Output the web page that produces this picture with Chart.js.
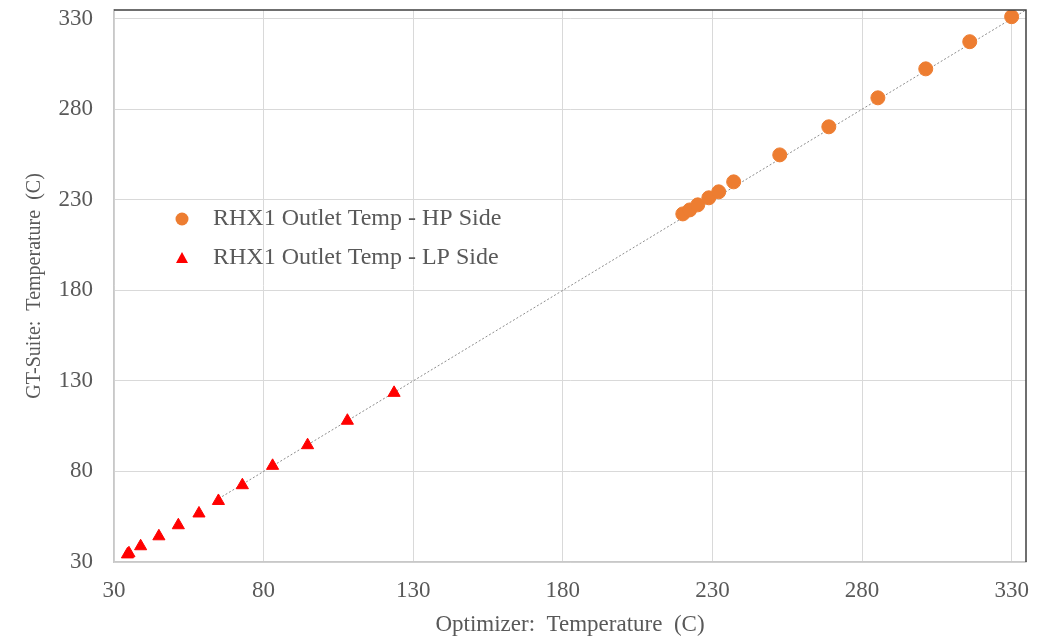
<!DOCTYPE html>
<html>
<head>
<meta charset="utf-8">
<script src="https://cdn.jsdelivr.net/npm/chart.js@4"></script>
<style>
  html, body { margin: 0; padding: 0; background: #fff; }
  #wrap { width: 1051px; height: 640px; }
</style>
</head>
<body>
<div id="wrap"><canvas id="tempChart" width="1051" height="640"></canvas></div>
<script>
// Datos
const hpOptimizer = [220.1, 222.4, 225.1, 228.8, 232.1, 237.1, 252.5, 268.9, 285.3, 301.3, 316.0, 330.0];
const hpGtSuite   = [222.2, 224.4, 227.2, 231.1, 234.4, 239.9, 254.8, 270.3, 286.3, 302.3, 317.3, 331.1];
const lpOptimizer = [34.5, 35.0, 38.9, 45.0, 51.5, 58.4, 64.9, 72.9, 83.0, 94.7, 108.0, 123.6];
const lpGtSuite   = [34.2, 34.8, 38.7, 44.2, 50.3, 56.8, 63.7, 72.4, 83.1, 94.5, 108.0, 123.4];
const refLine = [65, 334.8];   // linea y = x
const tickValues = [30, 80, 130, 180, 230, 280, 330];
const hpLabel = 'RHX1 Outlet Temp - HP Side';
const lpLabel = 'RHX1 Outlet Temp - LP Side';

const serif = "'Liberation Serif', 'Times New Roman', serif";
const textGray = '#595959';

function toPoints(xs, ys) {
    return xs.map((x, i) => ({ x: x, y: ys[i] }));
}

// Marco superior/derecho oscuro y leyenda dentro del área
const framePlugin = {
    id: 'frame',
    afterDraw(chart) {
        const ctx = chart.ctx;
        const a = chart.chartArea;
        ctx.save();
        ctx.strokeStyle = '#404040';
        ctx.lineWidth = 1.5;
        ctx.beginPath();
        ctx.moveTo(a.left, a.top);
        ctx.lineTo(a.right, a.top);
        ctx.lineTo(a.right, a.bottom);
        ctx.stroke();

        // Leyenda
        const lx = a.left + 68;
        const ly1 = a.top + 209;
        const ly2 = a.top + 248;
        ctx.fillStyle = '#ED7D31';
        ctx.beginPath();
        ctx.arc(lx, ly1, 6.5, 0, Math.PI * 2);
        ctx.fill();
        ctx.fillStyle = '#FF0000';
        ctx.beginPath();
        ctx.moveTo(lx, ly2 - 6);
        ctx.lineTo(lx + 6, ly2 + 5);
        ctx.lineTo(lx - 6, ly2 + 5);
        ctx.closePath();
        ctx.fill();
        ctx.fillStyle = textGray;
        ctx.font = '24px ' + serif;
        ctx.textBaseline = 'middle';
        ctx.fillText(hpLabel, lx + 31, ly1);
        ctx.fillText(lpLabel, lx + 31, ly2);
        ctx.restore();
    }
};

const ctx = document.getElementById('tempChart').getContext('2d');
new Chart(ctx, {
    type: 'scatter',
    data: {
        datasets: [{
            label: hpLabel,
            data: toPoints(hpOptimizer, hpGtSuite),
            backgroundColor: '#ED7D31',
            borderColor: '#ED7D31',
            pointStyle: 'circle',
            pointRadius: 7,
            order: 1
        }, {
            label: lpLabel,
            data: toPoints(lpOptimizer, lpGtSuite),
            backgroundColor: '#FF0000',
            borderColor: '#FF0000',
            pointStyle: 'triangle',
            pointRadius: 7,
            order: 2
        }, {
            label: 'y = x',
            type: 'line',
            data: toPoints(refLine, refLine),
            borderColor: '#8c8c8c',
            borderWidth: 1,
            borderDash: [2, 2],
            pointRadius: 0,
            fill: false,
            order: 3
        }]
    },
    options: {
        responsive: false,
        animation: false,
        layout: { padding: { top: 10, right: 25, left: 0, bottom: 0 } },
        plugins: {
            legend: { display: false },
            tooltip: { enabled: false }
        },
        scales: {
            x: {
                type: 'linear',
                min: 30,
                max: 334.8,
                afterBuildTicks: s => { s.ticks = tickValues.map(v => ({ value: v })); },
                afterFit: s => { s.height = 78; },
                grid: { color: '#d9d9d9', drawTicks: false },
                border: { color: '#c8c8c8', width: 1.5 },
                ticks: { color: textGray, padding: 15, font: { family: serif, size: 23 } },
                title: {
                    display: true,
                    text: 'Optimizer:  Temperature  (C)',
                    color: textGray,
                    font: { family: serif, size: 23 },
                    padding: { top: 0, bottom: 1 }
                }
            },
            y: {
                type: 'linear',
                min: 30,
                max: 334.8,
                afterBuildTicks: s => { s.ticks = tickValues.map(v => ({ value: v })); },
                afterFit: s => { s.width = 114; s.paddingTop = 0; s.paddingBottom = 0; },
                grid: { color: '#d9d9d9', drawTicks: false },
                border: { color: '#c8c8c8', width: 1.5 },
                ticks: { color: textGray, padding: 21, font: { family: serif, size: 23 } },
                title: {
                    display: true,
                    text: 'GT-Suite:  Temperature  (C)',
                    color: textGray,
                    font: { family: serif, size: 20 },
                    padding: { top: 23, bottom: 0 }
                }
            }
        }
    },
    plugins: [framePlugin]
});
</script>
</body>
</html>
